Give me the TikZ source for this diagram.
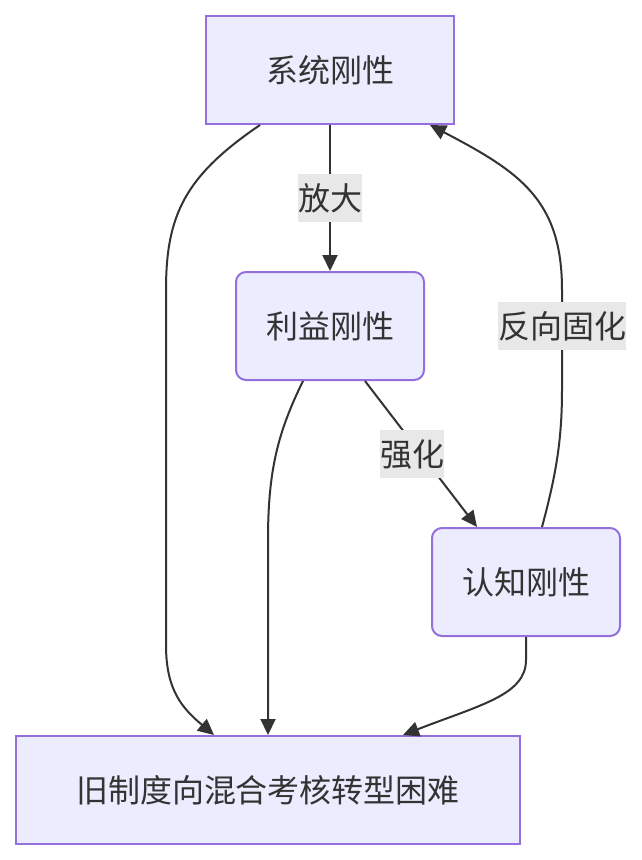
\documentclass[tikz,border=0pt]{standalone}
\usepackage{fontspec}
\setmainfont{Noto Sans CJK SC}
\usetikzlibrary{arrows.meta}
\definecolor{nodefill}{HTML}{ECECFF}
\definecolor{nodeline}{HTML}{9370DB}
\definecolor{edgecol}{HTML}{333333}
\definecolor{lblfill}{HTML}{E8E8E8}
\tikzset{
  box/.style={draw=nodeline, fill=nodefill, line width=2pt, minimum height=108pt, inner sep=0pt, text=edgecol, font=\fontsize{32}{38}\selectfont},
  rbox/.style={box, rounded corners=10pt},
  conn/.style={draw=edgecol, line width=2pt, -{Triangle[length=16pt,width=15pt]}},
  lbl/.style={fill=lblfill, inner sep=0pt, minimum height=48pt, text=edgecol, font=\fontsize{32}{38}\selectfont},
}
\begin{document}
\begin{tikzpicture}[x=1pt,y=-1pt]
\fill[white] (0,0) rectangle (642,860);
\useasboundingbox (0,0) rectangle (642,860);
\node[box, minimum width=248pt] (sys) at (330,70) {系统刚性};
\node[rbox, minimum width=188pt] (li) at (330,326) {利益刚性};
\node[rbox, minimum width=188pt] (cog) at (526,582) {认知刚性};
\node[box, minimum width=504pt] (old) at (268,790) {旧制度向混合考核转型困难};

\draw[conn] (sys.south) -- (li.north);
\node[lbl] (l1) at (330,198) {放大};

\draw[conn] ([xshift=-70pt]sys.south) .. controls (185,176) and (166,215) .. (166,290) -- (166,645) .. controls (166,690) and (182,708) .. ([xshift=-54pt]old.north);

\draw[conn] ([xshift=-27pt]li.south) .. controls (278,432) and (268,470) .. (268,540) -- (old.north);

\draw[conn] ([xshift=35pt]li.south) -- ([xshift=-49pt]cog.north);
\node[lbl] (l2) at (412,454) {强化};

\draw[conn] ([xshift=16pt]cog.north) .. controls (556,475) and (562,440) .. (562,390) -- (562,290) .. controls (562,200) and (520,172) .. ([xshift=100pt]sys.south);
\node[lbl] (l3) at (562,326) {反向固化};

\draw[conn] (cog.south) -- (526,660) .. controls (526,695) and (480,705) .. ([xshift=135pt]old.north);
\end{tikzpicture}
\end{document}
